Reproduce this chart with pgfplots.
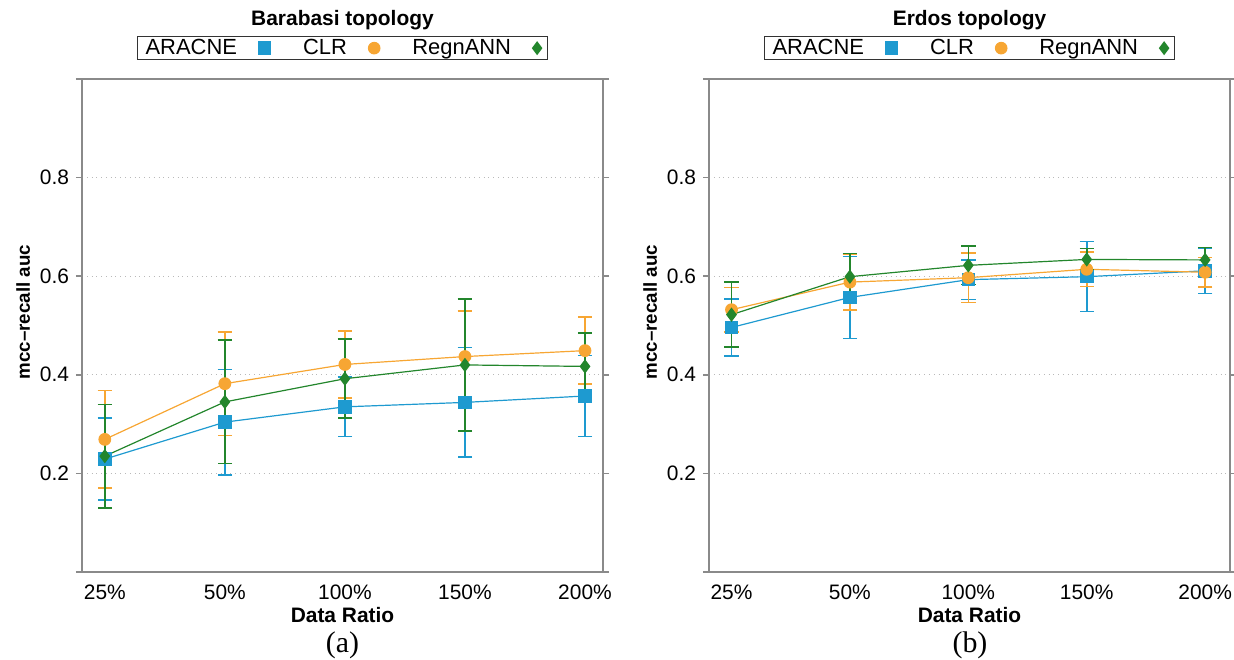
\documentclass[border=0pt]{standalone}
\usepackage{fontspec}
\setmainfont{Liberation Sans}
\newfontfamily\seriffont{Liberation Serif}
\usepackage{pgfplots}
\pgfplotsset{compat=1.18}
\definecolor{cblue}{HTML}{1E9AD0}
\definecolor{corange}{HTML}{F7A633}
\definecolor{cgreen}{HTML}{23862C}
\definecolor{axgray}{HTML}{8A8A8A}
\pgfplotsset{
  panel/.style={
    scale only axis, width=260.5bp, height=246.5bp,
    anchor=south west,
    ymin=0, ymax=1,
    ytick={0,0.2,0.4,0.6,0.8,1},
    yticklabels={,0.2,0.4,0.6,0.8,},
    xtick={0,1,2,3,4},
    xticklabels={25\%,50\%,100\%,150\%,200\%},
    tick label style={font=\fontsize{10.5}{12}\selectfont},
    /pgf/number format/assume math mode=true,
    axis line style={draw=axgray, line width=0.8bp},
    tick align=outside,
    major tick length=3bp,
    ytick style={draw=axgray, line width=0.8bp},
    xtick style={draw=none},
    ymajorgrids,
    grid style={dotted, gray!55, line width=0.6bp},
    ylabel={\bfseries mcc--recall auc},
    ylabel style={at={(axis description cs:-0.113,0.527)}, anchor=center, font=\fontsize{9.4}{11}\selectfont},
    xlabel={\bfseries Data Ratio},
    xlabel style={at={(axis description cs:0.5,0)}, anchor=center, yshift=-21.5bp, font=\fontsize{10.5}{12}\selectfont},
    title style={at={(axis description cs:0.5,1)}, anchor=center, yshift=23.5bp, font=\bfseries\fontsize{10.5}{12}\selectfont},
    legend columns=3,
    legend plot pos=right,
    legend style={at={(axis description cs:0.5,1)}, anchor=south, yshift=9.5bp,
      draw=black!80, line width=0.5bp, inner xsep=3bp, inner ysep=0.5bp,
      font=\fontsize{11}{12}\selectfont,
      nodes={inner xsep=1.2bp, inner ysep=0.6bp},
      /tikz/every even column/.append style={column sep=15bp},
      /tikz/every odd column/.append style={column sep=9.5bp}},
    error bars/y dir=both, error bars/y explicit,
  },
  sblue/.style={cblue, line width=0.6bp, mark=square*, mark size=3.1bp, mark options={solid, fill=cblue, draw=cblue},
    error bars/error bar style={line width=0.8bp, cblue},
    error bars/error mark options={rotate=90, mark size=3.6bp, line width=0.8bp, cblue}},
  sorange/.style={corange, line width=0.6bp, mark=*, mark size=2.9bp, mark options={solid, fill=corange, draw=corange},
    error bars/error bar style={line width=0.8bp, corange},
    error bars/error mark options={rotate=90, mark size=3.6bp, line width=0.8bp, corange}},
  sgreen/.style={cgreen, line width=0.6bp, mark=diamond*, mark size=3.1bp, mark options={solid, fill=cgreen, draw=cgreen},
    error bars/error bar style={line width=0.8bp, cgreen},
    error bars/error mark options={rotate=90, mark size=3.6bp, line width=0.8bp, cgreen}},
}
\begin{document}
\begin{tikzpicture}
\path[use as bounding box] (0,0) rectangle (617bp,330bp);
\begin{axis}[panel, at={(41bp,44bp)}, xmin=-0.19, xmax=4.15, title={Barabasi topology}]
\addlegendimage{only marks, mark=square*, mark size=3.1bp, cblue}
\addlegendentry{ARACNE}
\addlegendimage{only marks, mark=*, mark size=2.9bp, corange}
\addlegendentry{CLR}
\addlegendimage{only marks, mark=diamond*, mark size=3.1bp, cgreen}
\addlegendentry{RegnANN}
\addplot[sblue, forget plot] coordinates {(0,0.229) +- (0,0.083) (1,0.304) +- (0,0.107) (2,0.335) +- (0,0.060) (3,0.344) +- (0,0.111) (4,0.357) +- (0,0.082)};
\addplot[sorange, forget plot] coordinates {(0,0.269) +- (0,0.099) (1,0.382) +- (0,0.105) (2,0.421) +- (0,0.068) (3,0.437) +- (0,0.092) (4,0.449) +- (0,0.068)};
\addplot[sgreen, forget plot] coordinates {(0,0.235) +- (0,0.105) (1,0.345) +- (0,0.125) (2,0.392) +- (0,0.080) (3,0.420) +- (0,0.134) (4,0.417) +- (0,0.068)};
\end{axis}
\begin{axis}[panel, at={(354.5bp,44bp)}, xmin=-0.19, xmax=4.21, title={Erdos topology}]
\addlegendimage{only marks, mark=square*, mark size=3.1bp, cblue}
\addlegendentry{ARACNE}
\addlegendimage{only marks, mark=*, mark size=2.9bp, corange}
\addlegendentry{CLR}
\addlegendimage{only marks, mark=diamond*, mark size=3.1bp, cgreen}
\addlegendentry{RegnANN}
\addplot[sblue, forget plot] coordinates {(0,0.496) +- (0,0.058) (1,0.557) +- (0,0.083) (2,0.593) +- (0,0.040) (3,0.599) +- (0,0.071) (4,0.611) +- (0,0.046)};
\addplot[sorange, forget plot] coordinates {(0,0.532) +- (0,0.045) (1,0.588) +- (0,0.056) (2,0.597) +- (0,0.050) (3,0.614) +- (0,0.035) (4,0.608) +- (0,0.030)};
\addplot[sgreen, forget plot] coordinates {(0,0.522) +- (0,0.066) (1,0.599) +- (0,0.047) (2,0.622) +- (0,0.039) (3,0.634) +- (0,0.022) (4,0.633) +- (0,0.025)};
\end{axis}
\node[font=\seriffont\fontsize{15}{16}\selectfont] at (171.25bp,7.5bp) {(a)};
\node[font=\seriffont\fontsize{15}{16}\selectfont] at (485bp,7.5bp) {(b)};
\end{tikzpicture}
\end{document}
